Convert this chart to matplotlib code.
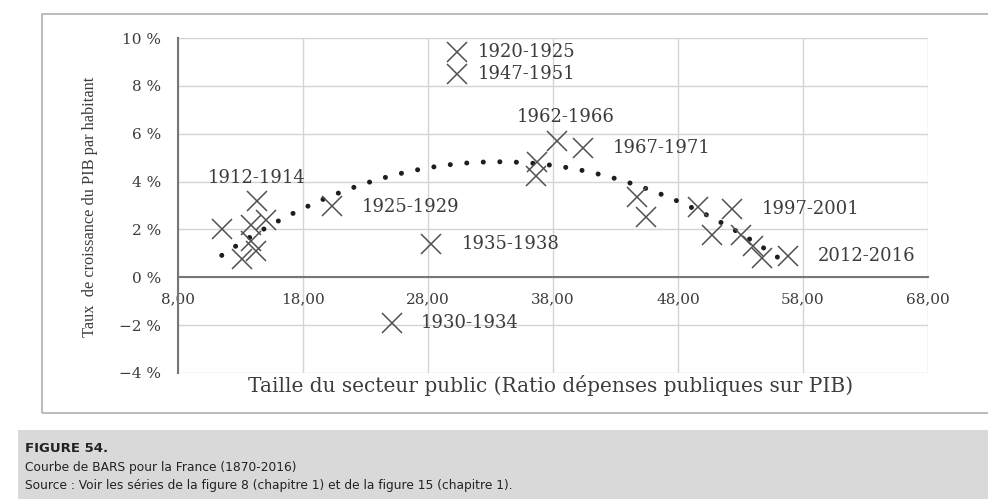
import numpy as np
import matplotlib
matplotlib.use("Agg")
import matplotlib.pyplot as plt
from matplotlib.patches import Rectangle

# public spending ratio (% of GDP) and GDP growth per capita (%)
spending = [11.5, 13.1, 13.8, 13.8, 14.2, 14.3, 15.0, 20.3, 25.1, 28.2, 30.3, 30.3,
            36.7, 36.6, 38.3, 40.4, 44.7, 45.4, 49.6, 52.3, 50.7, 53.0, 54.0, 54.7, 56.8]
growth = [2.0, 0.75, 2.2, 1.5, 1.1, 3.2, 2.4, 3.0, -1.9, 1.4, 9.4, 8.5,
          4.8, 4.25, 5.7, 5.4, 3.35, 2.5, 2.95, 2.85, 1.75, 1.75, 1.3, 0.8, 0.9]
periods = ["", "", "", "", "", "1912-1914", "", "1925-1929", "1930-1934", "1935-1938",
           "1920-1925", "1947-1951", "", "", "1962-1966", "1967-1971", "", "", "",
           "1997-2001", "", "", "", "", "2012-2016"]

x_ticks = [8, 18, 28, 38, 48, 58, 68]
x_ticklabels = ["8,00", "18,00", "28,00", "38,00", "48,00", "58,00", "68,00"]
y_ticks = [-4, -2, 0, 2, 4, 6, 8, 10]
y_ticklabels = ["\u22124 %", "\u22122 %", "0 %", "2 %", "4 %", "6 %", "8 %", "10 %"]

caption_title = "FIGURE 54."
caption_lines = ["Courbe de BARS pour la France (1870-2016)",
                 "Source : Voir les séries de la figure 8 (chapitre 1) et de la figure 15 (chapitre 1)."]

# label placement: (dx px, dy px, horizontal alignment)
label_pos = {
    "1920-1925": (21, 0, "left"), "1947-1951": (21, 0, "left"),
    "1962-1966": (9, 24, "center"), "1967-1971": (30, 0, "left"),
    "1912-1914": (0, 23, "center"), "1925-1929": (30, -2, "left"),
    "1935-1938": (31, 0, "left"), "1930-1934": (29, 0, "left"),
    "1997-2001": (30, 0, "left"), "2012-2016": (30, 0, "left"),
}

serif = ["DejaVu Serif"]
txt = "#3c3c3c"

fig = plt.figure(figsize=(9.88, 4.99), dpi=100)
fig.patch.set_facecolor("white")

# outer chart frame and caption band
fig.patches.append(Rectangle((42 / 988, 1 - 413 / 499), 950 / 988, 399 / 499,
                             transform=fig.transFigure, fill=False,
                             edgecolor="#b0b0b0", lw=1.2))
fig.patches.append(Rectangle((18 / 988, 0), 975 / 988, 69 / 499,
                             transform=fig.transFigure, facecolor="#d9d9d9",
                             edgecolor="none"))

ax = fig.add_axes([178 / 988, 1 - 373 / 499, 750 / 988, 335 / 499])
ax.set_xlim(8, 68)
ax.set_ylim(-4, 10)

for s in ["top", "right"]:
    ax.spines[s].set_visible(False)
ax.spines["bottom"].set_position(("data", 0))
ax.spines["bottom"].set_color("#777777")
ax.spines["left"].set_color("#777777")
ax.spines["bottom"].set_linewidth(1.5)
ax.spines["left"].set_linewidth(1.5)

ax.set_xticks(x_ticks)
ax.set_xticklabels(x_ticklabels, family=serif, fontsize=11, color=txt)
ax.set_yticks(y_ticks)
ax.set_yticklabels(y_ticklabels, family=serif, fontsize=11, color=txt)
ax.tick_params(length=0, pad=12)
ax.tick_params(axis="x", pad=11)
ax.grid(True, color="#d4d4d4", lw=1)
ax.set_axisbelow(True)

# polynomial trend (order 2) fitted on the points
coef = np.polyfit(spending, growth, 2)
xs = np.linspace(min(spending), max(spending), 200)
ax.plot(xs, np.polyval(coef, xs), linestyle=(0, (0.01, 3.3)), lw=3.6,
        dash_capstyle="round", color="#1e1e1e")

ax.plot(spending, growth, linestyle="none", marker="x", ms=14, mew=1.1,
        color="#505050")

for x, y, p in zip(spending, growth, periods):
    if not p:
        continue
    dx, dy, ha = label_pos[p]
    ax.annotate(p, (x, y), xytext=(dx, dy), textcoords="offset pixels",
                ha=ha, va="center", family=serif, fontsize=13, color=txt)

fig.text(551 / 988, 1 - 386 / 499,
         "Taille du secteur public (Ratio dépenses publiques sur PIB)",
         ha="center", va="center", family=serif, fontsize=14.5, color=txt)
fig.text(90 / 988, 1 - 207 / 499, "Taux  de croissance du PIB par habitant",
         rotation=90, ha="center", va="center", family=["Liberation Serif"],
         fontsize=11.8, color=txt)

cap_font = ["DejaVu Sans"]
fig.text(25 / 988, 1 - 448 / 499, caption_title, ha="left", va="center",
         family=cap_font, fontsize=9.5, fontweight="bold", color="#222222")
for i, line in enumerate(caption_lines):
    fig.text(25 / 988, 1 - (467 + 19 * i) / 499, line, ha="left", va="center",
             family=cap_font, fontsize=8.8, color="#222222")

fig.savefig("out.png", dpi=100)
